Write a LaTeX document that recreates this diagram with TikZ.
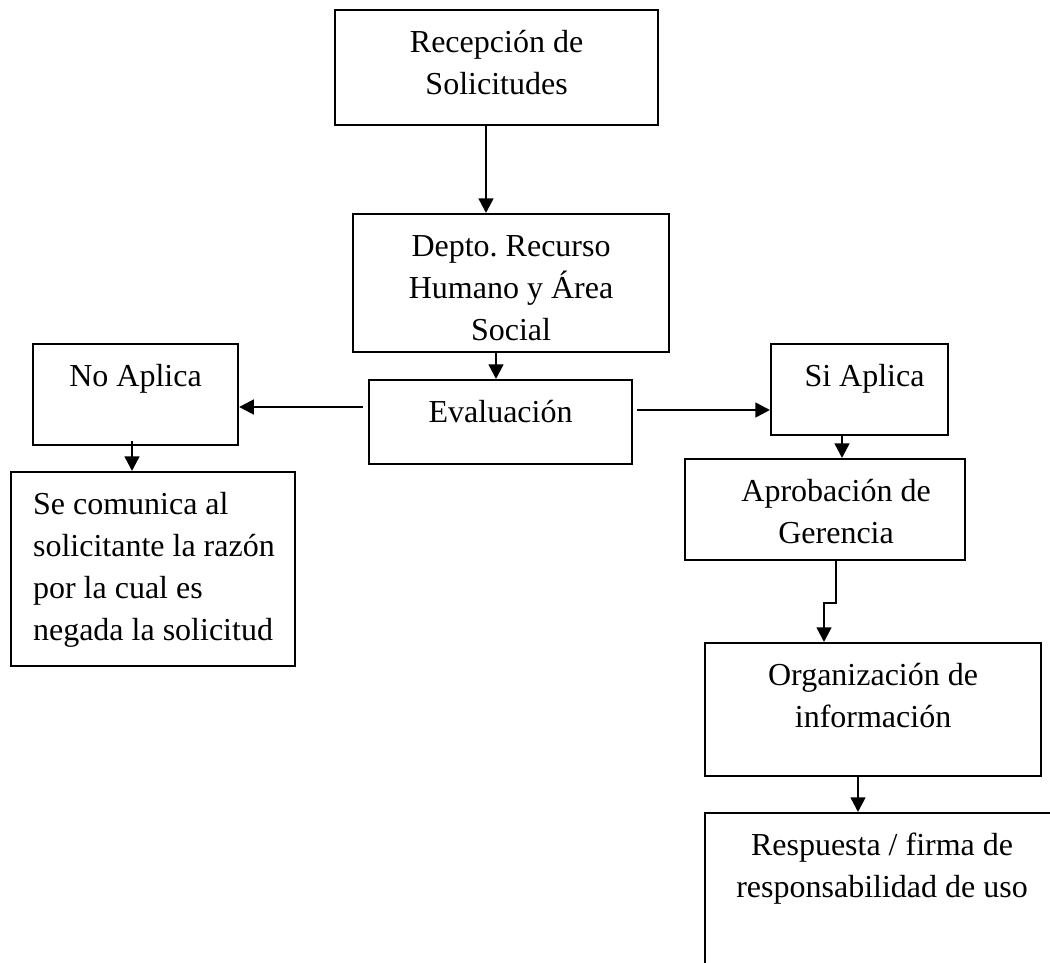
\documentclass[tikz,border=0pt]{standalone}
\usepackage{fontspec}
\setmainfont{Liberation Serif}
\usetikzlibrary{arrows.meta}
\frenchspacing

\newdimen\pxd \pxd=0.75pt
% box text: [indent]{width}{height}{lines}, sizes in pixels
\newcommand{\boxlines}[4][0]{\parbox[t][#3\pxd][t]{#2\pxd}{\centering\leftskip=#1\pxd plus 1fil\rule{0pt}{42\pxd}#4}}

\tikzset{
  box/.style={draw, line width=1.6pt, anchor=north west, inner sep=0pt,
    font=\fontsize{24pt}{31.5pt}\selectfont},
  arr/.style={-{Triangle[length=11pt,width=11pt]}, line width=1.9pt},
}

\begin{document}
\begin{tikzpicture}[x=0.75pt, y=-0.75pt]
    \useasboundingbox (0,0) rectangle (1050,963);
    \clip (0,0) rectangle (1050,963);

    \node[box] (rec) at (334,9)   {\boxlines{323}{115}{Recepción de\\Solicitudes}};
    \node[box] (dep) at (352,213) {\boxlines{316}{138}{Depto. Recurso\\Humano y Área\\Social}};
    \node[box] (eva) at (368,379) {\boxlines{263}{84}{Evaluación}};
    \node[box] (no)  at (32,343)  {\boxlines{205}{101}{No Aplica}};
    \node[box] (si)  at (770,343) {\boxlines[10]{177}{91}{Si Aplica}};
    \node[box] (com) at (10,471)  {\parbox[t][194\pxd][t]{284\pxd}{\raggedright\leftskip=22\pxd
        \rule{0pt}{42\pxd}Se comunica al\\solicitante la razón\\por la cual es\\negada la solicitud}};
    \node[box] (apr) at (684,458) {\boxlines[22]{280}{101}{Aprobación de\\Gerencia}};
    \node[box] (org) at (704,642) {\boxlines{336}{133}{Organización de\\información}};
    \node[box] (res) at (704,812) {\boxlines{354}{200}{Respuesta / firma de\\responsabilidad de uso}};

    \draw[arr] (rec.south -| 486,0) -- (dep.north -| 486,0);
    \draw[arr] (dep.south -| 496,0) -- (eva.north -| 496,0);
    \draw[arr] (eva.west |- 0,407) ++(-5,0) -- (no.east |- 0,407);
    \draw[arr] (eva.east |- 0,410) ++(4,0) -- (si.west |- 0,410);
    \draw[arr] (no.south -| 132,0) ++(0,-5) -- (com.north -| 132,0);
    \draw[arr] (si.south -| 842,0) -- (apr.north -| 842,0);
    \draw[arr] (apr.south -| 836,0) -- ++(0,42) -| (org.north -| 824,0);
    \draw[arr] (org.south -| 858,0) -- (res.north -| 858,0);
\end{tikzpicture}
\end{document}
